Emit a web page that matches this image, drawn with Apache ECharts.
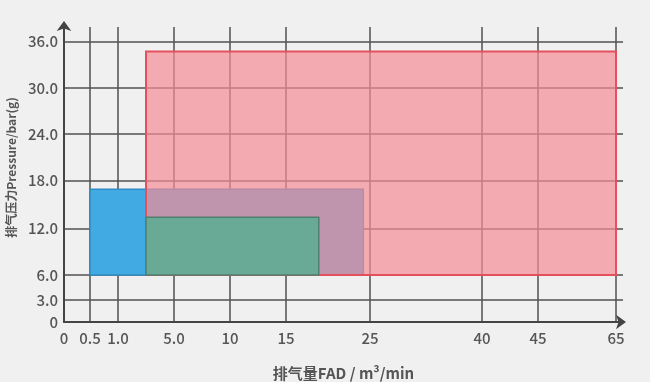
<!DOCTYPE html>
<html><head><meta charset="utf-8">
<script src="https://cdn.jsdelivr.net/npm/echarts@6/dist/echarts.min.js"></script>
<style>html,body{margin:0;padding:0;background:#f0f0f0;}#c{width:650px;height:382px;}</style>
</head><body><div id="c"></div>
<script>
// Tick labels (real values) of the non-uniform axes
const xTickValues = [0, 0.5, 1.0, 5.0, 10, 15, 25, 40, 45, 65];
const xTickLabels = ['0', '0.5', '1.0', '5.0', '10', '15', '25', '40', '45', '65'];
const yTickValues = [0, 3, 6, 12, 18, 24, 30, 36];
const yTickLabels = ['0', '3.0', '6.0', '12.0', '18.0', '24.0', '30.0', '36.0'];
// Axis geometry: where each tick sits along the (piecewise) axis scale
const xTickSpan = [0, 26, 54, 110, 166, 222, 306, 418, 474, 552];
const yTickSpan = [0, 22, 47, 93.5, 141.5, 188, 234, 280.5];
// Series: FAD range [from, to], pressure range [from, to]
const seriesNames = ['blue', 'red', 'green'];
const fadFrom = [0.5, 3, 3];
const fadTo = [24.2, 65, 18.9];
const pressFrom = [6, 6, 6];
const pressTo = [16.9, 34.7, 13.4];

function mapPiece(v, vals, span) {
  for (let i = 0; i < vals.length - 1; i++) {
    if (v <= vals[i + 1]) {
      return span[i] + (v - vals[i]) / (vals[i + 1] - vals[i]) * (span[i + 1] - span[i]);
    }
  }
  return span[span.length - 1];
}
const mx = v => mapPiece(v, xTickValues, xTickSpan);
const my = v => mapPiece(v, yTickValues, yTickSpan);

const styles = [
  { fill: '#41aae2', stroke: '#2f8cc4', lw: 1.5 },
  { fill: 'rgba(243,140,150,0.7)', stroke: '#e5505f', lw: 2 },
  { fill: '#69aa96', stroke: '#4f7f6f', lw: 1.5 }
];

const fontFam = '"Noto Sans CJK SC","Noto Sans",sans-serif';
const chart = echarts.init(document.getElementById('c'));
chart.setOption({
  backgroundColor: '#f0f0f0',
  animation: false,
  grid: { left: 64, right: 27, top: 27, bottom: 60, containLabel: false, outerBoundsMode: 'none' },
  xAxis: {
    type: 'value', min: 0, max: 559,
    name: '排气量FAD / m³/min', nameLocation: 'middle', nameGap: 44,
    nameTextStyle: { fontSize: 15, fontWeight: 'bold', color: '#555', fontFamily: fontFam },
    axisLine: { show: true, lineStyle: { color: '#444', width: 2 }, symbol: ['none', 'arrow'], symbolSize: [11, 10], symbolOffset: [0, 3] },
    axisTick: { show: false, customValues: xTickSpan },
    axisLabel: { customValues: xTickSpan, margin: 9, fontSize: 15, fontWeight: 500, color: '#555', fontFamily: fontFam,
      formatter: v => xTickLabels[xTickSpan.indexOf(v)] },
    splitLine: { show: true, lineStyle: { color: '#505050', width: 1.5 } }
  },
  yAxis: {
    type: 'value', min: 0, max: 295,
    name: '排气压力Pressure/bar(g)', nameLocation: 'middle', nameGap: 44, nameRotate: 90,
    nameTextStyle: { fontSize: 12, fontWeight: 'bold', color: '#555', fontFamily: fontFam, padding: [0, 0, 0, 14] },
    axisLine: { show: true, lineStyle: { color: '#444', width: 2 }, symbol: ['none', 'arrow'], symbolSize: [11, 10], symbolOffset: [0, 6] },
    axisTick: { show: false, customValues: yTickSpan },
    axisLabel: { customValues: yTickSpan, margin: 6, fontSize: 15, fontWeight: 500, color: '#555', fontFamily: fontFam,
      formatter: v => yTickLabels[yTickSpan.indexOf(v)] },
    splitLine: { show: true, lineStyle: { color: '#505050', width: 1.5 } }
  },
  series: [{
    type: 'custom',
    coordinateSystem: 'cartesian2d',
    data: seriesNames.map((n, i) => [mx(fadFrom[i]), mx(fadTo[i]), my(pressFrom[i]), my(pressTo[i]), i]),
    encode: { x: [0, 1], y: [2, 3] },
    renderItem: function (params, api) {
      const p0 = api.coord([api.value(0), api.value(3)]);
      const p1 = api.coord([api.value(1), api.value(2)]);
      const s = styles[api.value(4)];
      return {
        type: 'rect',
        shape: { x: p0[0], y: p0[1], width: p1[0] - p0[0], height: p1[1] - p0[1] },
        style: { fill: s.fill, stroke: s.stroke, lineWidth: s.lw }
      };
    }
  }]
});
</script></body></html>
